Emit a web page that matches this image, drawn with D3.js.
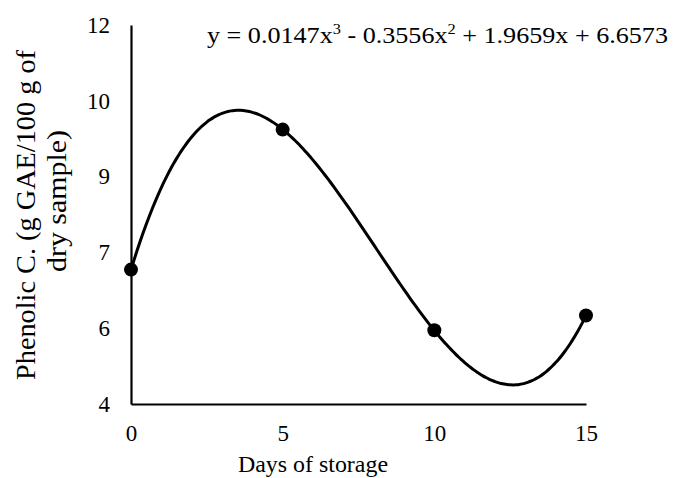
<!DOCTYPE html>
<html>
<head>
<meta charset="utf-8">
<script src="https://cdn.jsdelivr.net/npm/d3@7"></script>
<style>
  html, body { margin: 0; padding: 0; background: #fff; }
  svg { display: block; }
  svg text { font-family: "Liberation Serif", "Times New Roman", serif; }
</style>
</head>
<body>
<svg id="chart" width="681" height="478"></svg>
<script>
// ---- data ----
const days = [0, 5, 10, 15];
const phenolic = [6.66, 9.43, 5.46, 5.75];
const yTickValues = [4, 5.5, 7, 8.5, 10, 11.5];
const yTickLabels = ["4", "6", "7", "9", "10", "12"];
const xTickValues = [0, 5, 10, 15];
const trendCoefficients = [0.0147, -0.3556, 1.9659, 6.6573]; // x^3, x^2, x, 1
const xTitle = "Days of storage";
const yTitleLines = ["Phenolic C. (g GAE/100 g of", "dry sample)"];

// ---- layout ----
const FONT = '"Liberation Serif", "Times New Roman", serif';
const svg = d3.select("#chart");
const x = d3.scaleLinear().domain([0, 15]).range([131, 586]);
const y = d3.scaleLinear().domain([4, 11.5]).range([404, 25]);

// axes
const yAxis = d3.axisLeft(y)
  .tickValues(yTickValues)
  .tickFormat((d, i) => yTickLabels[i])
  .tickSize(0).tickSizeOuter(0).tickPadding(21);
const gy = svg.append("g").attr("transform", `translate(${x(0)},0)`).call(yAxis);

const xAxis = d3.axisBottom(x)
  .tickValues(xTickValues)
  .tickFormat(d3.format("d"))
  .tickSize(0).tickSizeOuter(0).tickPadding(21);
const gx = svg.append("g").attr("transform", `translate(0,${y(4)})`).call(xAxis);

[gx, gy].forEach(g => {
  g.attr("font-family", null);
  g.select(".domain").attr("stroke", "#000").attr("stroke-width", 2.2);
  g.selectAll("text").attr("font-size", 23).attr("fill", "#000")
    .style("font-family", FONT);
});

// trendline
const poly = t => trendCoefficients[0]*t*t*t + trendCoefficients[1]*t*t + trendCoefficients[2]*t + trendCoefficients[3];
const samples = d3.range(0, 15.0001, 0.1).map(t => [t, poly(t)]);
svg.append("path")
  .datum(samples)
  .attr("fill", "none")
  .attr("stroke", "#000")
  .attr("stroke-width", 3)
  .attr("d", d3.line().x(d => x(d[0])).y(d => y(d[1])).curve(d3.curveMonotoneX));

// points
svg.append("g").selectAll("circle")
  .data(days.map((d, i) => [d, phenolic[i]]))
  .join("circle")
  .attr("cx", d => x(d[0]))
  .attr("cy", d => y(d[1]))
  .attr("r", 7)
  .attr("fill", "#000");

// equation
const eq = svg.append("text")
  .attr("x", 207).attr("y", 43)
  .attr("font-size", 24).attr("fill", "#000")
  .style("font-family", FONT)
  .attr("textLength", 461).attr("lengthAdjust", "spacingAndGlyphs");
eq.append("tspan").text("y = 0.0147x");
eq.append("tspan").attr("font-size", 15).attr("dy", -9).text("3");
eq.append("tspan").attr("dy", 9).text(" - 0.3556x");
eq.append("tspan").attr("font-size", 15).attr("dy", -9).text("2");
eq.append("tspan").attr("dy", 9).text(" + 1.9659x + 6.6573");

// axis titles
svg.append("text")
  .attr("x", 313).attr("y", 472)
  .attr("text-anchor", "middle")
  .attr("font-size", 24).attr("fill", "#000")
  .style("font-family", FONT)
  .attr("textLength", 150).attr("lengthAdjust", "spacingAndGlyphs")
  .text(xTitle);

const yCenters = [215, 201];
const yBaselines = [35, 66];
const yLengths = [330, 142];
yTitleLines.forEach((line, i) => {
  svg.append("text")
    .attr("transform", `translate(${yBaselines[i]},${yCenters[i]}) rotate(-90)`)
    .attr("text-anchor", "middle")
    .attr("font-size", 28).attr("fill", "#000")
    .style("font-family", FONT)
    .attr("textLength", yLengths[i]).attr("lengthAdjust", "spacingAndGlyphs")
    .text(line);
});
</script>
</body>
</html>
